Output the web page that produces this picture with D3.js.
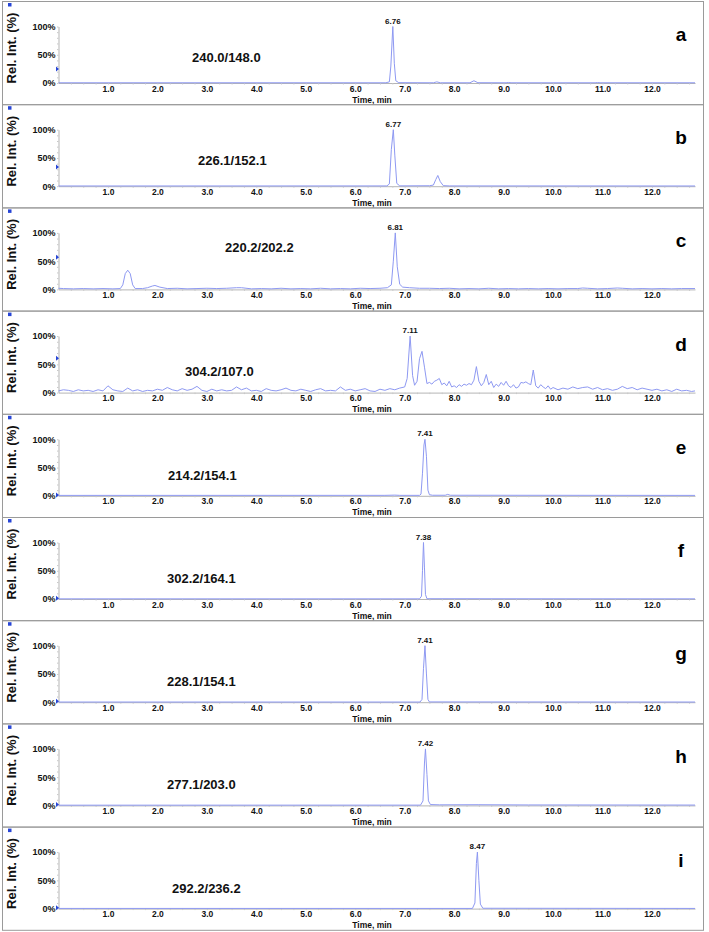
<!DOCTYPE html>
<html>
<head>
<meta charset="utf-8">
<script src="https://cdn.jsdelivr.net/npm/d3@7"></script>
<style>
  body { margin: 0; background: #fff; }
  text { font-family: "Liberation Sans", Arial, sans-serif; }
</style>
</head>
<body>
<svg id="chart"></svg>
<script>
// transitions (Q1 -> Q3) shown in each panel
const transitions = ["240.0/148.0", "226.1/152.1", "220.2/202.2", "304.2/107.0", "214.2/154.1",
  "302.2/164.1", "228.1/154.1", "277.1/203.0", "292.2/236.2"];
const panelLetters = ["a", "b", "c", "d", "e", "f", "g", "h", "i"];
const peakTimes = [6.76, 6.77, 6.81, 7.11, 7.41, 7.38, 7.41, 7.42, 8.47];
// blue marker on the y axis, in % of the scale
const markerLevels = [25, 34, 57, 61, 1.5, 1.5, 1.5, 1.5, 1.5];
// x position of the transition label and its baseline offset inside the panel
const labelX = [192, 198, 225, 185, 168, 167, 167, 167, 172];
const labelDy = [61, 61, 45, 65, 66, 66, 66, 66, 66];

const xTicks = [1, 2, 3, 4, 5, 6, 7, 8, 9, 10, 11, 12];
const yTicks = [0, 50, 100];

// traces: [time (min), relative intensity (%)]
const traceA = [[0, 0.4], [6.62, 0.4], [6.69, 2], [6.72, 30], [6.76, 100], [6.79, 35], [6.82, 4], [6.88, 0.6],
  [7.58, 0.4], [7.65, 2], [7.72, 0.4], [8.32, 0.4], [8.4, 4], [8.48, 0.5], [9.05, 0.4], [9.1, 0.9], [9.15, 0.4],
  [10.85, 0.4], [10.9, 0.8], [10.95, 0.4], [12.87, 0.4]];
const traceB = [[0, 0.4], [6.64, 0.5], [6.69, 4], [6.73, 65], [6.77, 100], [6.8, 55], [6.84, 5], [6.9, 0.6],
  [7.5, 0.8], [7.58, 2], [7.63, 12], [7.67, 19], [7.72, 8], [7.78, 1], [7.9, 0.5], [12.87, 0.4]];
const traceC = [[0, 2], [0.1, 1.5], [0.3, 1], [0.5, 1.5], [0.7, 1], [0.9, 1.5], [1.1, 1], [1.25, 1.5], [1.3, 8],
  [1.35, 28], [1.4, 34], [1.45, 28], [1.5, 8], [1.55, 1.5], [1.7, 1.5], [1.8, 3], [1.9, 6], [1.95, 7], [2.05, 4],
  [2.2, 1.5], [2.4, 2], [2.6, 1], [2.8, 1.5], [3.0, 2], [3.2, 1.5], [3.4, 2], [3.6, 3], [3.7, 3], [3.9, 1],
  [4.1, 1.5], [4.3, 1], [4.5, 2], [4.7, 1], [4.9, 1.5], [5.1, 1], [5.3, 2], [5.5, 1], [5.7, 1.5], [5.9, 1],
  [6.1, 2], [6.3, 1.5], [6.5, 2], [6.65, 3], [6.73, 8], [6.77, 50], [6.81, 100], [6.85, 40], [6.9, 9], [6.96, 4],
  [7.1, 3], [7.3, 2], [7.5, 2], [7.7, 1.5], [7.9, 2], [8.1, 1], [8.3, 1.5], [8.5, 1], [8.7, 2], [8.9, 1],
  [9.1, 1.5], [9.3, 1], [9.5, 1.5], [9.7, 1], [9.9, 1.5], [10.1, 1], [10.3, 1.5], [10.5, 1.5], [10.6, 2.5],
  [10.7, 2], [10.9, 1], [11.1, 1.5], [11.3, 2.5], [11.4, 2], [11.6, 1], [11.8, 1.5], [12.0, 1], [12.2, 1.5],
  [12.4, 1], [12.6, 1.5], [12.87, 1.5]];
const traceD = [[0, 3], [0.1, 5], [0.2, 4], [0.3, 2], [0.4, 5], [0.5, 3], [0.6, 4], [0.7, 2], [0.8, 5], [0.9, 3],
  [1.0, 12], [1.1, 5], [1.2, 3], [1.3, 2], [1.4, 8], [1.5, 3], [1.6, 5], [1.7, 2], [1.8, 4], [1.9, 3],
  [2.0, 6], [2.1, 4], [2.2, 9], [2.3, 5], [2.4, 3], [2.5, 7], [2.6, 4], [2.7, 6], [2.8, 11], [2.9, 4],
  [3.0, 2], [3.1, 6], [3.2, 3], [3.3, 5], [3.4, 3], [3.5, 4], [3.6, 10], [3.7, 5], [3.8, 8], [3.9, 3],
  [4.0, 4], [4.1, 2], [4.2, 7], [4.3, 4], [4.4, 3], [4.5, 5], [4.6, 8], [4.7, 4], [4.8, 3], [4.9, 6],
  [5.0, 4], [5.1, 2], [5.2, 5], [5.3, 7], [5.4, 3], [5.5, 4], [5.6, 3], [5.7, 10], [5.8, 4], [5.9, 6],
  [6.0, 3], [6.1, 5], [6.2, 7], [6.3, 3], [6.4, 2], [6.5, 6], [6.6, 4], [6.7, 7], [6.8, 5], [6.9, 8],
  [7.0, 10], [7.05, 25], [7.11, 100], [7.16, 30], [7.2, 13], [7.25, 20], [7.3, 60], [7.35, 73], [7.4, 45],
  [7.45, 16], [7.5, 18], [7.55, 15], [7.6, 20], [7.65, 22], [7.7, 25], [7.75, 14], [7.8, 17], [7.85, 12],
  [7.9, 20], [7.95, 10], [8.0, 12], [8.05, 9], [8.1, 14], [8.15, 11], [8.2, 15], [8.25, 13], [8.3, 16],
  [8.35, 14], [8.4, 22], [8.45, 46], [8.5, 20], [8.55, 12], [8.6, 18], [8.65, 32], [8.7, 14], [8.75, 20],
  [8.8, 9], [8.85, 15], [8.9, 11], [8.95, 18], [9.0, 13], [9.05, 20], [9.1, 12], [9.15, 9], [9.2, 14],
  [9.25, 8], [9.3, 10], [9.35, 18], [9.4, 17], [9.45, 19], [9.5, 16], [9.55, 14], [9.6, 40], [9.65, 12],
  [9.7, 8], [9.75, 14], [9.8, 10], [9.85, 7], [9.9, 12], [9.95, 6], [10.0, 9], [10.1, 5], [10.2, 8],
  [10.3, 6], [10.4, 10], [10.5, 7], [10.6, 9], [10.7, 10], [10.8, 6], [10.9, 9], [11.0, 5], [11.1, 7],
  [11.2, 4], [11.3, 6], [11.4, 11], [11.5, 7], [11.6, 9], [11.7, 5], [11.8, 8], [11.9, 6], [12.0, 4],
  [12.1, 6], [12.2, 3], [12.3, 5], [12.4, 2], [12.5, 6], [12.6, 3], [12.7, 4], [12.8, 2], [12.87, 3]];
const traceE = [[0, 0.7], [6.6, 0.8], [6.8, 1.2], [6.9, 0.8], [7.3, 0.8], [7.33, 3], [7.36, 40], [7.39, 90],
  [7.41, 100], [7.44, 70], [7.47, 10], [7.5, 2], [7.56, 1], [7.82, 1], [7.87, 2.5], [7.92, 1], [12.87, 0.7]];
const traceF = [[0, 0.3], [7.3, 0.3], [7.34, 5], [7.36, 50], [7.38, 100], [7.4, 55], [7.42, 8], [7.45, 0.5],
  [12.87, 0.3]];
const traceG = [[0, 0.3], [7.31, 0.3], [7.35, 5], [7.38, 60], [7.41, 100], [7.44, 50], [7.47, 5], [7.5, 0.5],
  [12.87, 0.3]];
const traceH = [[0, 0.4], [7.32, 0.5], [7.37, 8], [7.4, 75], [7.42, 100], [7.45, 55], [7.48, 8], [7.52, 1.5],
  [7.7, 1], [8.5, 1.2], [9.5, 0.8], [12.87, 0.6]];
const traceI = [[0, 0.3], [8.37, 0.3], [8.42, 10], [8.45, 80], [8.47, 100], [8.5, 50], [8.53, 8], [8.58, 0.6],
  [12.87, 0.3]];
const traces = [traceA, traceB, traceC, traceD, traceE, traceF, traceG, traceH, traceI];

const w = 709;
const h = 932;
const panelH = 103.2;
const svg = d3.select("#chart").attr("width", w).attr("height", h);

const xScale = d3.scaleLinear().domain([0, 12.87]).range([58.5, 695]);
const yScale = d3.scaleLinear().domain([0, 100]).range([82, 25.5]);

const line = d3.line()
  .x((d) => xScale(d[0]))
  .y((d) => yScale(d[1]));

traces.forEach((trace, i) => {
  const top = 1 + i * panelH;
  const g = svg.append("g").attr("transform", `translate(0, ${top})`);

  g.append("rect")
    .attr("x", 2.5).attr("y", 0.5)
    .attr("width", 701).attr("height", panelH)
    .attr("fill", "none").attr("stroke", "#9a9a9a");

  // little blue square in the corner
  g.append("rect").attr("x", 8).attr("y", 2).attr("width", 3.5).attr("height", 3.5).attr("fill", "#2745d6");

  // y axis
  const yAxis = d3.axisLeft(yScale).tickValues(yTicks).tickSize(0).tickPadding(3)
    .tickFormat((d) => d + "%");
  const ya = g.append("g").attr("transform", `translate(${xScale(0)}, 0)`).call(yAxis);
  ya.select(".domain").attr("stroke", "#b5b5b5");
  ya.selectAll("text").attr("font-size", 9).attr("font-weight", "bold").attr("fill", "#111");
  const yMinor = d3.axisLeft(yScale).tickValues(d3.range(0, 101, 10)).tickSize(1.5).tickFormat("");
  g.append("g").attr("transform", `translate(${xScale(0)}, 0)`).call(yMinor)
    .call((s) => s.select(".domain").remove())
    .selectAll("line").attr("stroke", "#c8c8c8");

  // x axis
  const xAxis = d3.axisBottom(xScale).tickValues(xTicks).tickSize(0).tickPadding(2.5)
    .tickFormat(d3.format(".1f"));
  const xa = g.append("g").attr("transform", `translate(0, ${yScale(0)})`).call(xAxis);
  xa.select(".domain").attr("stroke", "#b5b5b5");
  xa.selectAll("text").attr("font-size", 8.5).attr("font-weight", "bold").attr("fill", "#111");
  const xMinor = d3.axisBottom(xScale).tickValues(d3.range(0.25, 12.8, 0.25)).tickSize(1.5).tickFormat("");
  g.append("g").attr("transform", `translate(0, ${yScale(0)})`).call(xMinor)
    .call((s) => s.select(".domain").remove())
    .selectAll("line").attr("stroke", "#c8c8c8");

  g.append("text")
    .attr("x", 372).attr("y", 101.5)
    .attr("text-anchor", "middle")
    .attr("font-size", 8.5).attr("font-weight", "bold").attr("fill", "#111")
    .text("Time, min");

  g.append("text")
    .attr("transform", `translate(16, 47) rotate(-90)`)
    .attr("text-anchor", "middle")
    .attr("font-size", 13).attr("font-weight", "bold").attr("fill", "#111")
    .text("Rel. Int. (%)");

  // trace
  g.append("path")
    .datum(trace)
    .attr("d", line)
    .attr("fill", "none")
    .attr("stroke", "#8e99f2")
    .attr("stroke-width", 1)
    .attr("stroke-linejoin", "round");

  // marker triangle on the y axis
  const my = yScale(markerLevels[i]);
  g.append("path")
    .attr("d", `M${xScale(0) - 2.5},${my - 2.5} L${xScale(0) + 0.5},${my} L${xScale(0) - 2.5},${my + 2.5} Z`)
    .attr("fill", "#2745d6");

  g.append("text")
    .attr("x", xScale(peakTimes[i])).attr("y", yScale(100) - 3)
    .attr("text-anchor", "middle")
    .attr("font-size", 8).attr("font-weight", "bold").attr("fill", "#111")
    .text(peakTimes[i].toFixed(2));

  g.append("text")
    .attr("x", labelX[i]).attr("y", labelDy[i])
    .attr("font-size", 13).attr("font-weight", "bold").attr("fill", "#111")
    .text(transitions[i]);

  g.append("text")
    .attr("x", 681).attr("y", 40)
    .attr("text-anchor", "middle")
    .attr("font-family", "'Open Sans', sans-serif")
    .attr("font-size", 19).attr("font-weight", "bold").attr("fill", "#000")
    .text(panelLetters[i]);
});
</script>
</body>
</html>
